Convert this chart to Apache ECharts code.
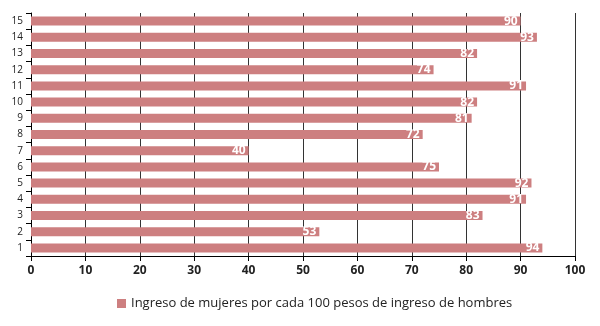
<!DOCTYPE html>
<html><head><meta charset="utf-8">
<script src="https://cdn.jsdelivr.net/npm/echarts@6/dist/echarts.min.js"></script>
<style>html,body{margin:0;padding:0;background:#fff}#c{width:600px;height:326px}</style>
</head><body><div id="c"></div>
<script>
var categories = ['1','2','3','4','5','6','7','8','9','10','11','12','13','14','15'];
var values = [94,53,83,91,92,75,40,72,81,82,91,74,82,93,90];
var seriesName = 'Ingreso de mujeres por cada 100 pesos de ingreso de hombres';
var xTicks = {min:0, max:100, interval:10};

var chart = echarts.init(document.getElementById('c'), null, {renderer:'canvas'});
chart.setOption({
  animation:false,
  textStyle:{fontFamily:'"Open Sans", "Liberation Sans", sans-serif'},
  grid:{left:31, right:25, top:13, bottom:70},
  legend:{
    bottom:11, left:112, itemWidth:9, itemHeight:9, itemGap:5,
    icon:'rect',
    textStyle:{fontSize:13, color:'#222', fontFamily:'"Open Sans", sans-serif'},
    data:[seriesName]
  },
  xAxis:{
    type:'value', min:xTicks.min, max:xTicks.max, interval:xTicks.interval,
    axisLine:{show:true, lineStyle:{color:'#000', width:1}},
    axisTick:{show:true, length:5, lineStyle:{color:'#000'}},
    axisLabel:{fontSize:12, fontWeight:'bold', color:'#222', margin:9},
    splitLine:{show:true, lineStyle:{color:'#333', width:1}}
  },
  yAxis:{
    type:'category', data:categories,
    axisLine:{show:true, lineStyle:{color:'#000', width:1}},
    axisTick:{show:true, length:5, lineStyle:{color:'#000'}},
    axisLabel:{fontSize:10, color:'#222', margin:8}
  },
  series:[{
    name:seriesName, type:'bar', data:values, barWidth:9,
    itemStyle:{color:'#cd7f80'},
    label:{show:true, position:'insideRight', distance:3, color:'#fff', fontWeight:'bold', fontSize:12}
  }]
});
</script></body></html>
